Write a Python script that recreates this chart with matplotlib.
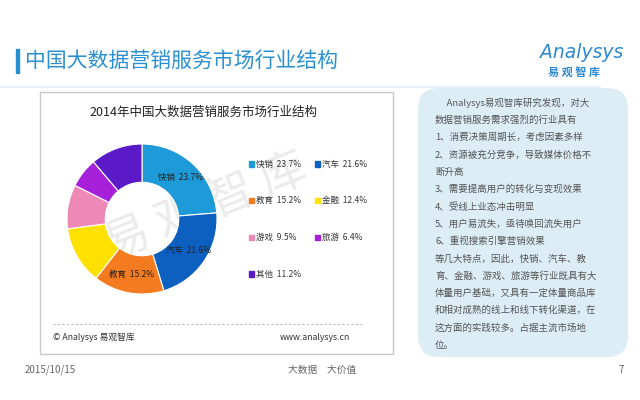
"""Donut chart of the 2014 China big-data marketing service market by industry, slide style."""

import matplotlib

matplotlib.use("Agg")
import matplotlib.pyplot as plt
import numpy as np
from matplotlib.patches import FancyBboxPatch, Rectangle

plt.rcParams["font.family"] = ["Noto Sans CJK SC", "DejaVu Sans"]

industries = ["快销", "汽车", "教育", "金融", "游戏", "旅游", "其他"]
shares = [23.7, 21.6, 15.2, 12.4, 9.5, 6.4, 11.2]
colors = ["#1f9ad8", "#0d5fc0", "#f47b20", "#ffe100", "#ee88b4", "#a61fd9", "#5a1ac8"]
inner_labelled = ["快销", "汽车", "教育"]

header_title = "中国大数据营销服务市场行业结构"
chart_title = "2014年中国大数据营销服务市场行业结构"
note_lines = [
    "　 Analysys易观智库研究发现，对大",
    "数据营销服务需求强烈的行业具有",
    "1、消费决策周期长，考虑因素多样",
    "2、资源被充分竞争，导致媒体价格不",
    "断升高",
    "3、需要提高用户的转化与变现效果",
    "4、受线上业态冲击明显",
    "5、用户易流失，亟待唤回流失用户",
    "6、重视搜索引擎营销效果",
    "等几大特点，因此，快销、汽车、教",
    "育、金融、游戏、旅游等行业既具有大",
    "体量用户基础，又具有一定体量商品库",
    "和相对成熟的线上和线下转化渠道，在",
    "这方面的实践较多。占据主流市场地",
    "位。",
]

W, H = 640, 400
fig = plt.figure(figsize=(6.4, 4.0), dpi=100)
ax = fig.add_axes([0, 0, 1, 1])
ax.set_xlim(0, W)
ax.set_ylim(H, 0)
ax.axis("off")

# header
ax.add_patch(Rectangle((16, 49), 2.5, 24, color="#2a8fd0"))
ax.text(25, 61, header_title, fontsize=15, color="#2a8fd0", va="center", ha="left")
ax.plot([0, 600], [87, 87], color="#e3eef6", lw=1.2)
ax.text(582, 53, "Analysys", fontsize=13.5, color="#2b8ad0", style="italic",
        ha="center", va="center", family=["DejaVu Sans"])
ax.text(574, 73, "易 观 智 库", fontsize=8, color="#2b8ad0", weight="bold",
        ha="center", va="center")

# chart frame
ax.add_patch(Rectangle((40, 92), 353, 262, fill=False, ec="#c8c8c8", lw=1))
ax.text(203, 112, chart_title, fontsize=9, color="#222222", ha="center", va="center")
ax.text(206, 208, "易 观 智 库", fontsize=33, color="#ebebeb", rotation=22,
        ha="center", va="center", zorder=0)
ax.plot([53, 363], [324, 324], color="#bbbbbb", lw=0.8, ls=(0, (2, 2)))
ax.text(53, 337, "© Analysys 易观智库", fontsize=6.3, color="#333333", va="center")
ax.text(350, 337, "www.analysys.cn", fontsize=6.3, color="#333333", va="center", ha="right")

# legend, two columns
for i, (name, val, col) in enumerate(zip(industries, shares, colors)):
    x = 251.5 + (i % 2) * 66
    y = 164 + (i // 2) * 36.7
    ax.add_patch(Rectangle((x - 2.8, y - 2.8), 5.6, 5.6, color=col))
    ax.text(x + 4.5, y, f"{name}  {val}%", fontsize=6.1, color="#333333", va="center")

# donut
cx, cy, r = 142, 219, 75
pax = fig.add_axes([(cx - r) / W, (H - cy - r) / H, 2 * r / W, 2 * r / H])
pax.set_facecolor("none")
wedges, _ = pax.pie(shares, colors=colors, startangle=90, counterclock=False,
                    radius=1, wedgeprops=dict(width=0.51, edgecolor="white", linewidth=0.8))
pax.set_xlim(-1, 1)
pax.set_ylim(-1, 1)
pax.set_aspect("equal")
pax.axis("off")
for w, name, val in zip(wedges, industries, shares):
    if name not in inner_labelled:
        continue
    mid = np.deg2rad((w.theta1 + w.theta2) / 2)
    pax.text(0.75 * np.cos(mid), 0.75 * np.sin(mid), f"{name}  {val}%",
             fontsize=6.1, color="#222222", ha="center", va="center")

# note box
ax.add_patch(FancyBboxPatch((418, 88), 210, 269, boxstyle="round,pad=0,rounding_size=21",
                            fc="#dcedf5", ec="none"))
for i, line in enumerate(note_lines):
    ax.text(435, 103 + i * 17.29, line, fontsize=6.8, color="#555555", va="center", ha="left")

# footer
ax.text(25, 370, "2015/10/15", fontsize=7, color="#666666", va="center")
ax.text(322, 370, "大数据　大价值", fontsize=7, color="#666666", va="center", ha="center")
ax.text(621, 370, "7", fontsize=7, color="#666666", va="center", ha="center")

fig.savefig("out.png", dpi=100)
